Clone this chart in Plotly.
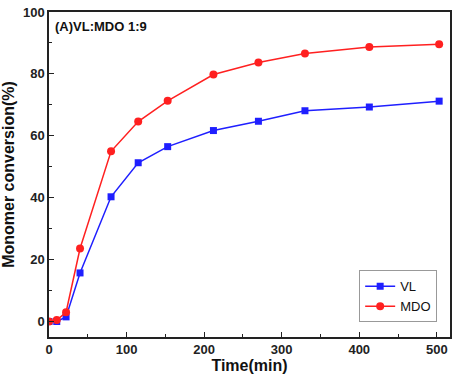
import plotly.graph_objects as go

# Sampling times (min) and monomer conversion (%)
time_mdo = [0, 10, 22, 40, 80, 115, 153, 212, 270, 330, 413, 503]
conv_mdo = [0, 0.5, 3.0, 23.6, 55.0, 64.6, 71.3, 79.8, 83.7, 86.6, 88.7, 89.6]

time_vl = [0, 10, 22, 40, 80, 115, 153, 212, 270, 330, 413, 503]
conv_vl = [0, 0, 1.5, 15.7, 40.3, 51.3, 56.5, 61.7, 64.7, 68.1, 69.3, 71.2]

x_ticks = [0, 100, 200, 300, 400, 500]
y_ticks = [0, 20, 40, 60, 80, 100]

FONT = "Liberation Sans, Arial, sans-serif"

fig = go.Figure()
fig.add_trace(go.Scatter(
    x=time_vl, y=conv_vl, name="VL", mode="lines+markers",
    line=dict(color="#1f1fff", width=1.5),
    marker=dict(symbol="square", size=7, color="#1f1fff"),
))
fig.add_trace(go.Scatter(
    x=time_mdo, y=conv_mdo, name="MDO", mode="lines+markers",
    line=dict(color="#ff2020", width=1.5),
    marker=dict(symbol="circle", size=8, color="#ff2020"),
))

axis_common = dict(
    showline=True, linecolor="#222", linewidth=1.5, mirror=True,
    ticks="inside", ticklen=5, tickwidth=1.2, tickcolor="#222",
    showgrid=False, zeroline=False,
    tickfont=dict(family=FONT, size=13, color="#222", weight="bold"),
)

fig.update_xaxes(
    range=[0, 517], tickvals=x_ticks,
    minor=dict(ticks="inside", ticklen=3, tickwidth=1, tickcolor="#222", dtick=50, tick0=0),
    title=dict(text="Time(min)", font=dict(family=FONT, size=16, color="#111", weight="bold"), standoff=2),
    **axis_common,
)
fig.update_yaxes(
    range=[-5, 100], tickvals=y_ticks,
    minor=dict(ticks="inside", ticklen=3, tickwidth=1, tickcolor="#222", dtick=10, tick0=0),
    title=dict(text="Monomer conversion(%)", font=dict(family=FONT, size=16, color="#111", weight="bold"), standoff=4),
    **axis_common,
)

fig.add_annotation(
    text="(A)VL:MDO 1:9", xref="paper", yref="paper", x=0.01, y=0.985,
    xanchor="left", yanchor="top", showarrow=False,
    font=dict(family=FONT, size=13, color="#111", weight="bold"),
)

fig.update_layout(
    width=453, height=385,
    margin=dict(l=49, r=1, t=12, b=48),
    paper_bgcolor="white", plot_bgcolor="white",
    legend=dict(
        x=0.968, y=0.045, xanchor="right", yanchor="bottom",
        bgcolor="white", bordercolor="#999", borderwidth=1,
        font=dict(family=FONT, size=13, color="#111"),
        itemwidth=30, tracegroupgap=0,
    ),
)

fig.write_html("out.html")
